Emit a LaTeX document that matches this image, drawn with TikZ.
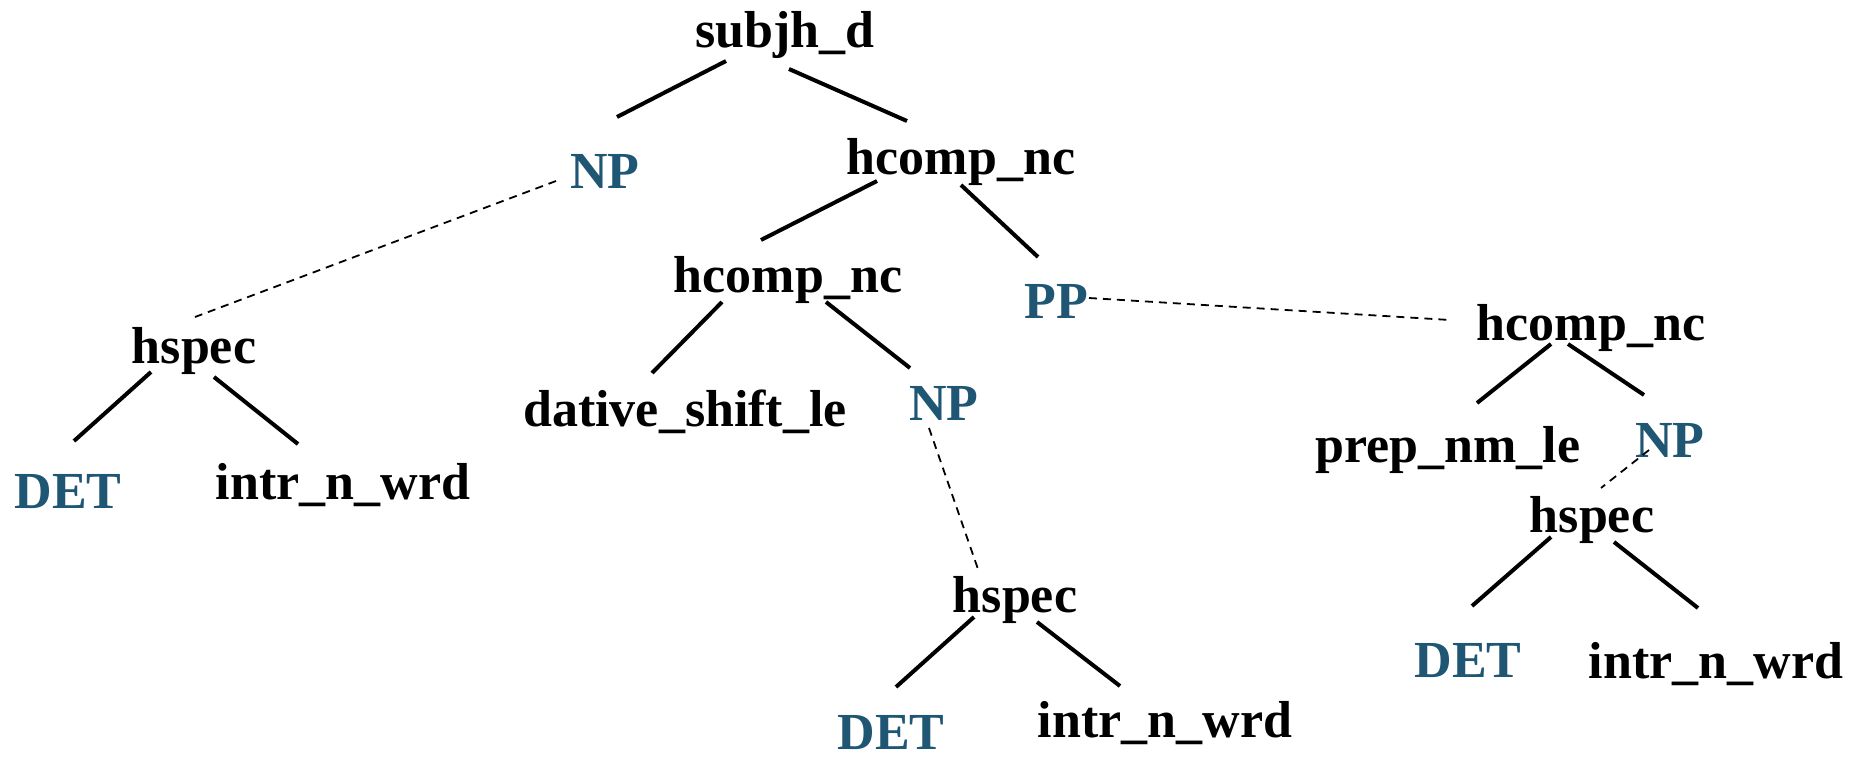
\documentclass[tikz,border=0pt]{standalone}
\usepackage{fontspec}
\setmainfont{Liberation Serif}
\usetikzlibrary{calc}
\definecolor{catblue}{HTML}{1F5674}
\begin{document}
\begin{tikzpicture}[x=0.5pt,y=-0.5pt,
  lbl/.style={inner sep=0pt,anchor=base,font=\fontsize{26}{30}\selectfont\bfseries,text=black},
  cat/.style={lbl,text=catblue},
  branch/.style={line width=2pt,black},
  link/.style={line width=0.9pt,black,dash pattern=on 4pt off 3pt}]
\useasboundingbox (0,0) rectangle (1865,760);

% tree labels
\node[lbl] (root) at (785,47)  {subjh\_d};
\node[cat] (np1)  at (605,188) {NP};
\node[lbl] (hc1)  at (961,174) {hcomp\_nc};
\node[lbl] (hc2)  at (788,292) {hcomp\_nc};
\node[cat] (pp)   at (1056,318) {PP};
\node[lbl] (hs1)  at (194,363) {hspec};
\node[cat] (det1) at (68,508)  {DET};
\node[lbl] (iw1)  at (343,499) {intr\_n\_wrd};
\node[lbl] (dsl)  at (685,426) {dative\_shift\_le};
\node[cat] (np2)  at (944,420) {NP};
\node[lbl] (hs2)  at (1015,612) {hspec};
\node[cat] (det2) at (891,749) {DET};
\node[lbl] (iw2)  at (1165,737) {intr\_n\_wrd};
\node[lbl] (hc3)  at (1591,340) {hcomp\_nc};
\node[lbl] (pnl)  at (1448,462) {prep\_nm\_le};
\node[cat] (np3)  at (1670,457) {NP};
\node[lbl] (hs3)  at (1592,532) {hspec};
\node[cat] (det3) at (1468,677) {DET};
\node[lbl] (iw3)  at (1716,678) {intr\_n\_wrd};

% solid branches
\draw[branch] ($(root.base)+(-59,14)$) -- ($(np1.base)+(12,-71)$);
\draw[branch] ($(root.base)+(4,22)$) -- ($(hc1.base)+(-54,-53)$);
\draw[branch] ($(hc1.base)+(-84,7)$) -- ($(hc2.base)+(-27,-52)$);
\draw[branch] ($(hc1.base)+(0,11)$) -- ($(pp.base)+(-18,-61)$);
\draw[branch] ($(hs1.base)+(-43,9)$) -- ($(det1.base)+(6,-67)$);
\draw[branch] ($(hs1.base)+(20,14)$) -- ($(iw1.base)+(-45,-55)$);
\draw[branch] ($(hc2.base)+(-66,10)$) -- ($(dsl.base)+(-33,-53)$);
\draw[branch] ($(hc2.base)+(38,10)$) -- ($(np2.base)+(-34,-52)$);
\draw[branch] ($(hs2.base)+(-41,5)$) -- ($(det2.base)+(5,-62)$);
\draw[branch] ($(hs2.base)+(22,10)$) -- ($(iw2.base)+(-45,-51)$);
\draw[branch] ($(hc3.base)+(-40,4)$) -- ($(pnl.base)+(29,-59)$);
\draw[branch] ($(hc3.base)+(-23,4)$) -- ($(np3.base)+(-26,-62)$);
\draw[branch] ($(hs3.base)+(-41,5)$) -- ($(det3.base)+(4,-71)$);
\draw[branch] ($(hs3.base)+(22,10)$) -- ($(iw3.base)+(-18,-70)$);

% dashed expansions
\draw[link] ($(np1.base)+(-49,-7)$) -- ($(hs1.base)+(1,-46)$);
\draw[link] ($(np2.base)+(-15,8)$) -- ($(hs2.base)+(-36,-40)$);
\draw[link] ($(pp.base)+(33,-20)$) -- ($(hc3.base)+(-141,-20)$);
\draw[link] ($(np3.base)+(-21,-7)$) -- ($(hs3.base)+(9,-44)$);
\end{tikzpicture}
\end{document}
